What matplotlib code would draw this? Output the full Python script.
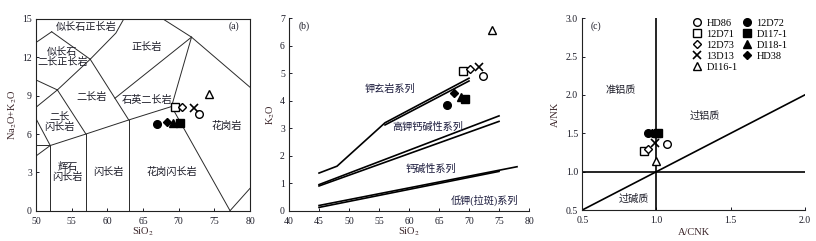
import matplotlib
matplotlib.use('Agg')
import matplotlib.pyplot as plt
from matplotlib.ticker import FormatStrFormatter

plt.rcParams['font.family'] = ['Liberation Serif', 'Noto Sans CJK SC']
plt.rcParams['mathtext.fontset'] = 'stix'

# sample names and marker styles (open / filled)
samples = ['HD86', '12D71', '12D73', '13D13', 'D116-1', '12D72', 'D117-1', 'D118-1', 'HD38']
markers = ['o', 's', 'D', 'x', '^', 'o', 's', '^', 'D']
filled = [False, False, False, False, False, True, True, True, True]

# (a) TAS: SiO2 vs Na2O+K2O
tas_sio2 = [72.9, 69.5, 70.5, 72.15, 74.3, 67.0, 70.2, 69.25, 68.3]
tas_alk = [7.57, 8.09, 8.09, 8.0, 9.14, 6.76, 6.84, 6.84, 6.97]

# (b) SiO2 vs K2O
k_sio2 = [72.3, 69.06, 70.1, 71.6, 73.9, 66.4, 69.3, 68.6, 67.5]
k_k2o = [4.9, 5.09, 5.16, 5.24, 6.59, 3.84, 4.05, 4.15, 4.3]

# (c) A/CNK vs A/NK
acnk = [1.074, 0.918, 0.945, 0.99, 0.997, 0.945, 1.013, 1.0, 0.97]
anks = [1.357, 1.273, 1.30, 1.377, 1.14, 1.508, 1.508, 1.5, 1.505]

# TAS field boundaries
tas_lines = [
    [(52, 0), (52, 5.1)],
    [(57, 0), (57, 6.0)],
    [(63, 0), (63, 7.1)],
    [(50, 5.1), (52, 5.1), (57, 6.0), (63, 7.1), (69, 8.15)],
    [(50, 4.28), (52, 5.1)],
    [(50, 7.2), (52, 5.1)],
    [(69, 8.15), (77.2, 0)],
    [(77.2, 0), (80, 1.75)],
    [(69, 8.15), (71.8, 13.58)],
    [(67.8, 15), (71.8, 13.58), (80, 9.66)],
    [(61.07, 8.8), (71.8, 13.58)],
    [(57, 6.0), (53, 9.45)],
    [(50, 8.09), (53, 9.45)],
    [(50, 10.23), (53, 9.45)],
    [(53, 9.45), (57.6, 11.85)],
    [(57.6, 11.85), (63, 7.1)],
    [(52.2, 14.0), (57.6, 11.85)],
    [(50, 13.16), (52.2, 14.0)],
    [(57.6, 11.85), (61.2, 13.9), (62.3, 15)],
]
tas_names = [
    ('似长石正长岩', 57.0, 14.4), ('似长石\n二长正长岩', 53.7, 12.0), ('正长岩', 65.5, 12.8),
    ('二长岩', 57.8, 8.9), ('石英二长岩', 65.6, 8.65), ('二长\n闪长岩', 53.3, 6.95),
    ('辉石\n闪长岩', 54.4, 3.05), ('闪长岩', 60.2, 3.0), ('花岗闪长岩', 69.0, 3.0),
    ('花岗岩', 76.7, 6.6),
]

# (b) series boundaries (double lines)
k_lines = [
    [(45, 1.37), (48, 1.62), (56, 3.2), (70, 4.82)],
    [(56, 3.12), (70, 4.72)],
    [(45, 0.95), (75, 3.45)],
    [(45, 0.9), (75, 3.25)],
    [(45, 0.19), (78, 1.6)],
    [(45, 0.12), (75, 1.43)],
]
k_names = [('钾玄岩系列', 56.8, 4.45), ('高钾钙碱性系列', 63.2, 3.05),
           ('钙碱性系列', 63.6, 1.52), ('低钾(拉斑)系列', 72.5, 0.37)]

c_names = [('准铝质', 0.76, 2.06), ('过铝质', 1.33, 1.73), ('过碱质', 0.85, 0.64)]

ink = '#1c1c28'
lab_col = '#3a2428'
fs_cn = 7.3
fs_tick = 7

fig = plt.figure(figsize=(8.16, 2.41), dpi=100)
ax1 = fig.add_axes([0.0441, 0.1257, 0.2623, 0.7955])
ax2 = fig.add_axes([0.3542, 0.1257, 0.2941, 0.7983])
ax3 = fig.add_axes([0.7136, 0.1286, 0.2725, 0.7954])

def style(ax):
    ax.tick_params(direction='in', length=2.5, width=0.7, labelsize=fs_tick, colors=ink)
    ax.tick_params(axis='x', pad=4.5)
    ax.tick_params(axis='y', pad=3)
    for s in ax.spines.values():
        s.set_linewidth(0.8)
        s.set_color('#222222')

def draw_points(ax, xs, ys):
    for i in range(len(samples)):
        m = markers[i]
        if m == 'x':
            ax.plot(xs[i], ys[i], m, color='black', ms=5.5, mew=1.2, label=samples[i])
        else:
            ms = 4.3 if m == 'D' else 5.5
            ax.plot(xs[i], ys[i], m, ms=ms, mew=1.0, mec='black',
                    mfc='black' if filled[i] else 'white', label=samples[i])

# (a)
for ln in tas_lines:
    ax1.plot([p[0] for p in ln], [p[1] for p in ln], color='#2a2a2a', lw=0.7)
for t, x, y in tas_names:
    ax1.text(x, y, t, fontsize=fs_cn, ha='center', va='center', color=ink, linespacing=1.0)
draw_points(ax1, tas_sio2, tas_alk)
ax1.text(77.7, 14.4, '(a)', fontsize=7, ha='center', va='center', color=ink)
ax1.set_xlim(50, 80)
ax1.set_ylim(0, 15)
ax1.set_xticks(range(50, 81, 5))
ax1.set_yticks(range(0, 16, 3))
ax1.set_xlabel('SiO$_2$', fontsize=7.5, color=lab_col, labelpad=0)
ax1.set_ylabel('Na$_2$O+K$_2$O', fontsize=7.5, color=lab_col, labelpad=2)
style(ax1)

# (b)
for ln in k_lines:
    ax2.plot([p[0] for p in ln], [p[1] for p in ln], color='black', lw=1.2)
for t, x, y in k_names:
    ax2.text(x, y, t, fontsize=fs_cn, ha='center', va='center', color='#1a1a3c')
draw_points(ax2, k_sio2, k_k2o)
ax2.text(42.5, 6.73, '(b)', fontsize=7, ha='center', va='center', color=ink)
ax2.set_xlim(40, 80)
ax2.set_ylim(0, 7)
ax2.set_xticks(range(40, 81, 5))
ax2.set_yticks(range(0, 8))
ax2.set_xlabel('SiO$_2$', fontsize=7.5, color=lab_col, labelpad=0)
ax2.set_ylabel('K$_2$O', fontsize=7.5, color=lab_col, labelpad=2)
ax2.spines['top'].set_visible(False)
ax2.spines['right'].set_visible(False)
style(ax2)

# (c)
ax3.axvline(1.0, color='black', lw=1.2)
ax3.axhline(1.0, color='black', lw=1.2)
ax3.plot([0.5, 2.0], [0.5, 2.0], color='black', lw=1.2)
for t, x, y in c_names:
    ax3.text(x, y, t, fontsize=fs_cn, ha='center', va='center', color=ink)
draw_points(ax3, acnk, anks)
ax3.text(0.59, 2.9, '(c)', fontsize=7, ha='center', va='center', color=ink)
ax3.set_xlim(0.5, 2.0)
ax3.set_ylim(0.5, 3.0)
ax3.set_xticks([0.5, 1.0, 1.5, 2.0])
ax3.set_yticks([0.5, 1.0, 1.5, 2.0, 2.5, 3.0])
ax3.xaxis.set_major_formatter(FormatStrFormatter('%.1f'))
ax3.yaxis.set_major_formatter(FormatStrFormatter('%.1f'))
ax3.set_xlabel('A/CNK', fontsize=7.5, color=lab_col, labelpad=2)
ax3.set_ylabel('A/NK', fontsize=7.5, color=lab_col, labelpad=4)
ax3.spines['top'].set_visible(False)
ax3.spines['right'].set_visible(False)
style(ax3)
ax3.legend(ncol=2, loc='upper left', bbox_to_anchor=(0.47, 1.03), frameon=False,
           fontsize=7.5, handlelength=0.8, handletextpad=0.5, columnspacing=0.5,
           labelspacing=0.15, borderpad=0.1)

fig.savefig('out.png', dpi=100)
